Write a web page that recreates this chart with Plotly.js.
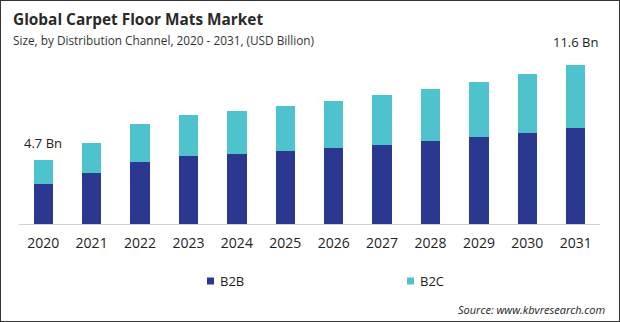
<!DOCTYPE html>
<html>
<head>
<meta charset="utf-8">
<script src="https://cdn.plot.ly/plotly-3.0.1.min.js"></script>
<style>
html,body{margin:0;padding:0;background:#fff;}
#frame{position:absolute;left:0;top:0;width:618px;height:320px;border:1px solid #333;pointer-events:none;}
#chart{width:620px;height:322px;}
</style>
</head>
<body>
<div id="chart"></div>
<div id="frame"></div>
<script>
const years = ['2020','2021','2022','2023','2024','2025','2026','2027','2028','2029','2030','2031'];
const b2b = [2.92, 3.73, 4.53, 4.97, 5.12, 5.34, 5.56, 5.77, 6.07, 6.36, 6.65, 7.02];
const b2c = [1.78, 2.19, 2.78, 3.00, 3.16, 3.29, 3.43, 3.66, 3.80, 4.02, 4.31, 4.58];
const seriesNames = ['B2B', 'B2C'];
const seriesColors = ['#2B388F', '#4EC3CE'];
const endLabels = {'2020': '4.7 Bn', '2031': '11.6 Bn'};

const font = 'Open Sans, Noto Sans, sans-serif';
const totals = years.map((y, i) => b2b[i] + b2c[i]);

// pixel helpers for paper coordinates (plot area: x 19..600, y 40..224)
const px = x => (x - 19) / 581;
const py = y => (224 - y) / 184;

const traces = [
  {type: 'bar', name: seriesNames[0], x: years, y: b2b, marker: {color: seriesColors[0]}, width: 0.4, hoverinfo: 'skip'},
  {type: 'bar', name: seriesNames[1], x: years, y: b2c, marker: {color: seriesColors[1]}, width: 0.4, hoverinfo: 'skip'}
];

const yshifts = {'2020': 6, '2031': 12};
const annotations = Object.keys(endLabels).map(k => {
  const i = years.indexOf(k);
  return {x: i, y: totals[i], xref: 'x', yref: 'y', text: endLabels[k], showarrow: false, yanchor: 'bottom',
          yshift: yshifts[k], font: {family: font, size: 13, color: '#222'}};
});
annotations.push({xref: 'paper', yref: 'paper', x: px(11), xanchor: 'left', y: py(20), yanchor: 'middle',
  text: '<b>Global Carpet Floor Mats Market</b>', showarrow: false, font: {family: font, size: 15.4, color: '#2a2a2a'}});
annotations.push({xref: 'paper', yref: 'paper', x: px(11), xanchor: 'left', y: py(40), yanchor: 'middle',
  text: 'Size, by Distribution Channel, 2020 - 2031, (USD Billion)', showarrow: false, font: {family: font, size: 11.8, color: '#333'}});
annotations.push({xref: 'paper', yref: 'paper', x: px(607), xanchor: 'right', y: py(309), yanchor: 'middle',
  text: '<i>Source: www.kbvresearch.com</i>', showarrow: false, font: {family: font, size: 11, color: '#222'}});

// manual legend
const legendX = [207, 407];
const shapes = [];
seriesNames.forEach((n, j) => {
  shapes.push({type: 'rect', xref: 'paper', yref: 'paper', x0: px(legendX[j]), x1: px(legendX[j] + 7),
               y0: py(284.5), y1: py(277.5), fillcolor: seriesColors[j], line: {width: 0}});
  annotations.push({xref: 'paper', yref: 'paper', x: px(legendX[j] + 11), xanchor: 'left', y: py(281), yanchor: 'middle',
    text: n, showarrow: false, font: {family: font, size: 13, color: '#222'}});
});

const layout = {
  width: 620, height: 322,
  margin: {l: 19, r: 20, t: 40, b: 98},
  paper_bgcolor: '#fff', plot_bgcolor: '#fff',
  barmode: 'stack',
  showlegend: false,
  xaxis: {type: 'category', range: [-0.5, 11.5], showline: true, linecolor: '#d0d0d0', linewidth: 1,
          ticks: '', ticklabelstandoff: 6, tickfont: {family: font, size: 14, color: '#222'}, showgrid: false, fixedrange: true},
  yaxis: {range: [0, 13.45], visible: false, showgrid: false, zeroline: false, fixedrange: true},
  annotations: annotations,
  shapes: shapes
};

Plotly.newPlot('chart', traces, layout, {displayModeBar: false, staticPlot: true});
</script>
</body>
</html>
